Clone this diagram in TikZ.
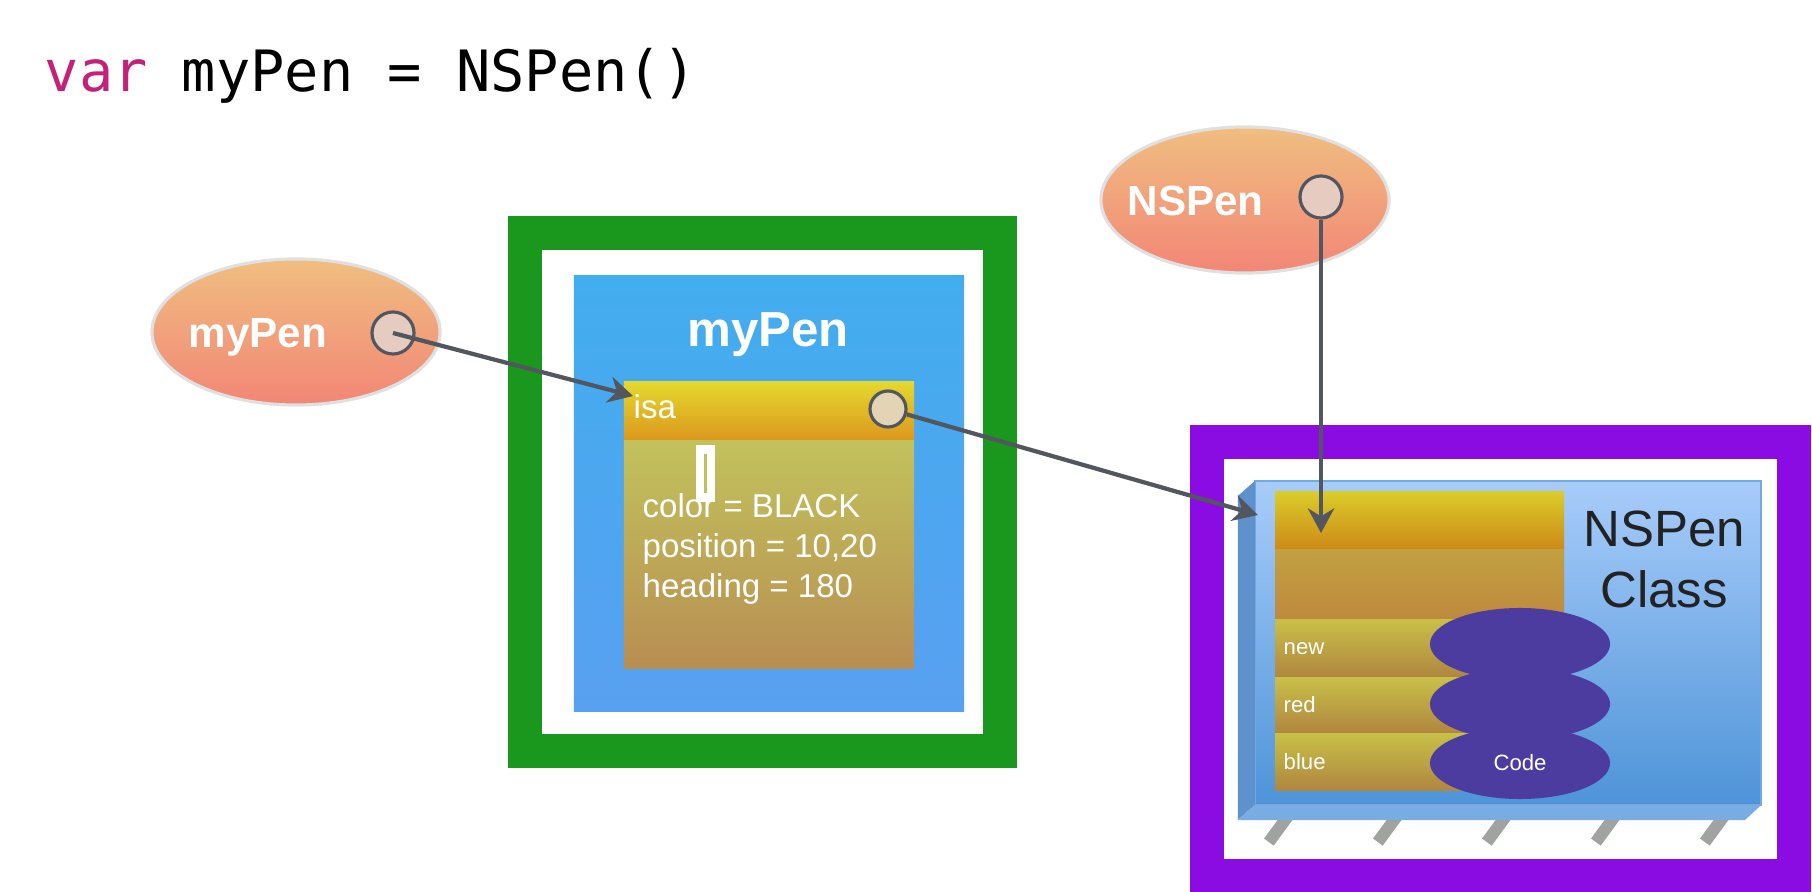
\documentclass[tikz,border=0pt]{standalone}
\usepackage{fontspec}
\setmainfont{Liberation Sans}
\newfontfamily\codefont{DejaVu Sans Mono}
\usetikzlibrary{shapes.geometric,arrows.meta,positioning}

\definecolor{varpink}{RGB}{196,34,120}
\definecolor{framegreen}{RGB}{26,152,30}
\definecolor{framepurple}{RGB}{138,12,226}
\definecolor{objblue1}{RGB}{66,173,239}
\definecolor{objblue2}{RGB}{88,160,240}
\definecolor{head1}{RGB}{228,216,46}
\definecolor{head2}{RGB}{220,152,30}
\definecolor{body1}{RGB}{194,194,92}
\definecolor{body2}{RGB}{184,142,82}
\definecolor{oval1}{RGB}{240,190,128}
\definecolor{oval2}{RGB}{242,134,118}
\definecolor{ptrfill}{RGB}{230,204,192}
\definecolor{isafill}{RGB}{226,212,180}
\definecolor{ptrgray}{RGB}{82,86,95}
\definecolor{slab1}{RGB}{168,204,250}
\definecolor{slab2}{RGB}{78,148,216}
\definecolor{slabside}{RGB}{95,145,205}
\definecolor{slabfloor}{RGB}{120,172,226}
\definecolor{chead1}{RGB}{218,204,42}
\definecolor{chead2}{RGB}{205,138,24}
\definecolor{cdata1}{RGB}{195,160,64}
\definecolor{cdata2}{RGB}{190,138,62}
\definecolor{row1}{RGB}{200,192,72}
\definecolor{row2}{RGB}{176,134,64}
\definecolor{codeviolet}{RGB}{76,60,160}
\definecolor{leggray}{RGB}{160,163,160}
\definecolor{classink}{RGB}{34,34,34}

\begin{document}
\begin{tikzpicture}[x=0.01cm, y=-0.01cm,
    oval/.style={ellipse, draw=black!12, line width=0.9pt, top color=oval1, bottom color=oval2,
      minimum width=2.88cm, minimum height=1.46cm, inner sep=0},
    ovaltext/.style={anchor=base west, inner sep=0, text=white, font=\bfseries\fontsize{12}{14}\selectfont},
    ptr/.style={circle, draw=ptrgray, line width=0.9pt, fill=ptrfill, minimum size=0.42cm, inner sep=0},
    link/.style={draw=ptrgray, line width=1.2pt, -{Stealth[length=7pt,width=7.5pt]}},
    frame/.style={line width=0.34cm, inner sep=0},
    box/.style={inner sep=0, outer sep=0},
    rowbox/.style={box, top color=row1, bottom color=row2, minimum width=2.45cm},
    smalltext/.style={anchor=base west, inner sep=0, text=white, font=\fontsize{6.3}{7.5}\selectfont},
    codeoval/.style={ellipse, fill=codeviolet, minimum width=1.8cm, minimum height=0.72cm, inner sep=0,
      text=white, font=\fontsize{6.3}{7.5}\selectfont},
    leg/.style={leggray, line width=0.12cm}]
  \useasboundingbox (0,0) rectangle (1812,892);

  % code line
  \node[anchor=base west, inner sep=0, font=\codefont\fontsize{16.2}{19}\selectfont] (code) at (44,92)
    {\textcolor{varpink}{var} myPen = NSPen()};

  % the object
  \node[frame, draw=framegreen, minimum width=4.75cm, minimum height=5.18cm] (objframe) at (762.5,492) {};
  \node[box, top color=objblue1, bottom color=objblue2, minimum width=3.9cm, minimum height=4.35cm] (objbody) at (769,493.5) {};
  \node[anchor=base, inner sep=0, text=white, font=\bfseries\fontsize{14}{16}\selectfont] (objname) at (768,347) {myPen};
  \node[box, top color=head1, bottom color=head2, minimum width=2.9cm, minimum height=0.58cm] (isahead) at (769,411) {};
  \node[box, top color=body1, bottom color=body2, minimum width=2.9cm, minimum height=2.28cm, below=0pt of isahead] (isabody) {};
  \node[anchor=base west, inner sep=0, text=white, font=\fontsize{9.4}{11.4}\selectfont] (isalabel) at (633,419) {isa};
  \node[ptr, fill=isafill, minimum size=0.36cm] (isaptr) at (888,409) {};
  \node[box, fill=white, minimum width=0.19cm, minimum height=0.56cm] (cursor) at (705.5,473.5) {};
  \draw[body1, line width=0.6pt] ([yshift=-2.5pt]cursor.north) -- ([yshift=2.5pt]cursor.south);
  \node[anchor=north west, inner sep=0, align=left, text=white, font=\fontsize{9.4}{11.4}\selectfont] (fields) at (642,493)
    {color = BLACK\\position = 10,20\\heading = 180};

  % variable myPen
  \node[oval] (mypenoval) at (296,332) {};
  \node[ovaltext] (mypenlabel) at (188,348) {myPen};
  \node[ptr] (mypenptr) at (393,333) {};

  % the class
  \node[frame, draw=framepurple, minimum width=5.87cm, minimum height=4.34cm] (classframe) at (1500.5,659) {};
  \node[box, draw=slab2!80, line width=0.4pt, top color=slab1, bottom color=slab2,
    minimum width=5.06cm, minimum height=3.24cm] (classbox) at (1508,643) {};
  \foreach \i in {0,...,4}
    \draw[leg] (classbox.south west) ++(36+109*\i,7) -- ++(-22,30);
  \fill[slabside] (classbox.north west) -- ++(-17,15) -- ++(0,324) -- (classbox.south west) -- cycle;
  \fill[slabfloor] (classbox.south west) -- ++(-17,15) -- ++(507,0) -- (classbox.south east) -- cycle;
  \node[box, top color=chead1, bottom color=chead2, minimum width=2.89cm, minimum height=0.57cm, anchor=north west] (classhead) at (1275,492) {};
  \node[box, top color=cdata1, bottom color=cdata2, minimum width=2.89cm, minimum height=0.7cm, below=0pt of classhead] (classdata) {};
  \node[rowbox, minimum height=0.58cm, below=0pt of classdata.south west, anchor=north west] (rownew) {};
  \node[rowbox, minimum height=0.56cm, below=0pt of rownew.south west, anchor=north west] (rowred) {};
  \node[rowbox, minimum height=0.57cm, below=0pt of rowred.south west, anchor=north west] (rowblue) {};
  \node[smalltext] (newlabel) at (1283,655) {new};
  \node[smalltext] (redlabel) at (1283,713) {red};
  \node[smalltext] (bluelabel) at (1283,770) {blue};
  \node[codeoval] (codenew) at (1520,644) {};
  \node[codeoval] (codered) at (1520,704) {};
  \node[codeoval] (codeblue) at (1520,763) {Code};
  \node[anchor=north, inner sep=0, align=center, text=classink, font=\fontsize{14.5}{17.4}\selectfont] (classname) at (1664,510)
    {NSPen\\Class};

  % variable NSPen
  \node[oval] (nspenoval) at (1245,200) {};
  \node[ovaltext] (nspenlabel) at (1127,216) {NSPen};
  \node[ptr] (nspenptr) at (1321,197) {};

  % pointers
  \coordinate (isaslot) at (633,396);
  \coordinate (classslot) at (1258,515);
  \coordinate (headslot) at (1321,533);
  \draw[link] (mypenptr.center) -- (isaslot);
  \draw[link] (isaptr) -- (classslot);
  \draw[link] (nspenptr) -- (headslot);
\end{tikzpicture}
\end{document}
